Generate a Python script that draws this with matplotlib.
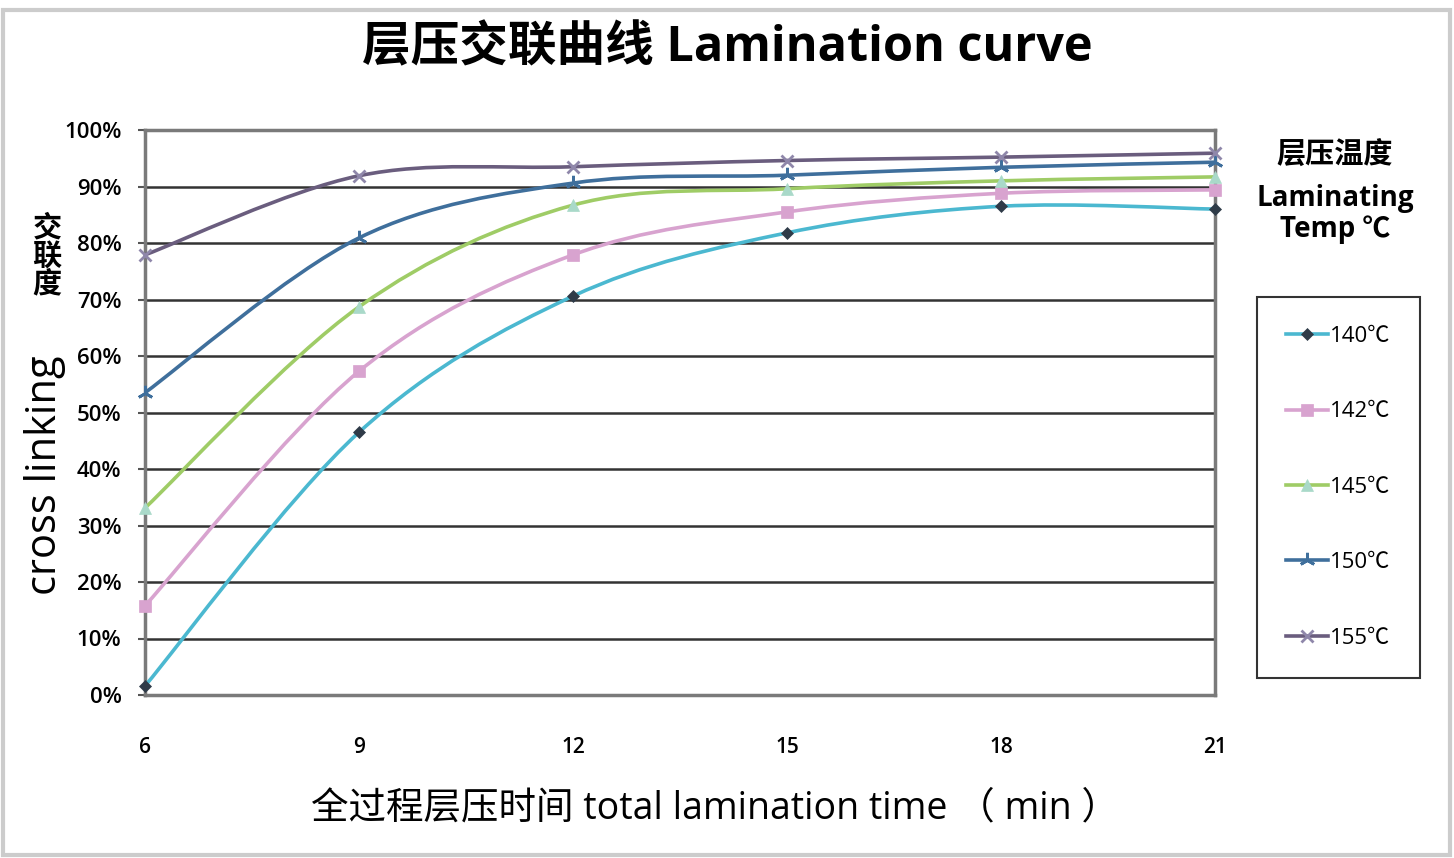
import matplotlib
matplotlib.use("Agg")
import matplotlib.pyplot as plt
from matplotlib.path import Path
from matplotlib.patches import PathPatch, Rectangle
from matplotlib.lines import Line2D
from matplotlib.ticker import PercentFormatter

plt.rcParams['font.family'] = ['Open Sans', 'Noto Sans CJK SC', 'DejaVu Sans']

# lamination time (min) and cross linking degree (%) per laminating temperature
times = ["6", "9", "12", "15", "18", "21"]
temps = ["140℃", "142℃", "145℃", "150℃", "155℃"]
cl_140 = [1.6, 46.5, 70.6, 81.8, 86.5, 86.0]
cl_142 = [15.8, 57.3, 77.9, 85.5, 88.8, 89.4]
cl_145 = [33.1, 68.7, 86.7, 89.6, 91.0, 91.7]
cl_150 = [53.5, 80.9, 90.6, 92.0, 93.4, 94.3]
cl_155 = [77.9, 91.9, 93.5, 94.6, 95.2, 95.9]
series = [cl_140, cl_142, cl_145, cl_150, cl_155]

line_colors = ["#4bb8d0", "#d8a3cf", "#9fcc66", "#3f6f9c", "#6a5d7e"]
marker_colors = ["#2f3b48", "#d8a3cf", "#a9d9c9", "#3f6f9c", "#8f87aa"]
markers = ["D", "s", "^", (3, 2, 0), "x"]
marker_sizes = [6, 9, 8, 11, 9]


# Excel-like smoothed line: cubic bezier through points
def smooth_path(xs, ys):
    n = len(xs)
    verts = [(xs[0], ys[0])]
    codes = [Path.MOVETO]
    for i in range(n - 1):
        x0, y0 = xs[max(i - 1, 0)], ys[max(i - 1, 0)]
        x3, y3 = xs[min(i + 2, n - 1)], ys[min(i + 2, n - 1)]
        c1 = (xs[i] + (xs[i + 1] - x0) / 6, ys[i] + (ys[i + 1] - y0) / 6)
        c2 = (xs[i + 1] - (x3 - xs[i]) / 6, ys[i + 1] - (y3 - ys[i]) / 6)
        verts += [c1, c2, (xs[i + 1], ys[i + 1])]
        codes += [Path.CURVE4] * 3
    return Path(verts, codes)


fig = plt.figure(figsize=(14.54, 8.58), dpi=100)
ax = fig.add_axes([145 / 1454, 1 - 695 / 858, 1070 / 1454, 565 / 858])

xpos = list(range(len(times)))
for vals, lc, mc, mk, ms in zip(series, line_colors, marker_colors, markers, marker_sizes):
    ax.add_patch(PathPatch(smooth_path(xpos, vals), fill=False, edgecolor=lc, lw=2.6, zorder=3))
    ax.plot(xpos, vals, linestyle="none", marker=mk, markersize=ms, color=mc,
            markeredgewidth=2 if mk in ("x", (3, 2, 0)) else 0.5, zorder=4, clip_on=False)

ax.set_xlim(0, len(times) - 1)
ax.set_ylim(0, 100)
ax.set_yticks(range(0, 101, 10))
ax.yaxis.set_major_formatter(PercentFormatter(decimals=0))
ax.set_xticks(xpos)
ax.set_xticklabels(times)
ax.yaxis.grid(True, color="#333333", lw=1.8)
ax.set_axisbelow(True)
for s in ax.spines.values():
    s.set_color("#7a7a7a")
    s.set_linewidth(2.5)
ax.tick_params(axis="y", length=5, width=1.5, color="#555555", pad=12, labelsize=16)
ax.tick_params(axis="x", length=0, pad=30, labelsize=15)
for lab in ax.get_yticklabels() + ax.get_xticklabels():
    lab.set_fontweight("semibold")

fig.text(727 / 1454, 1 - 49 / 858, "层压交联曲线 Lamination curve", ha="center", va="center",
         fontsize=35, fontweight="bold")
fig.text(715 / 1454, 1 - 808 / 858, "全过程层压时间 total lamination time （ min ）",
         ha="center", va="center", fontsize=27)
fig.text(45 / 1454, 1 - 475 / 858, "cross linking", rotation=90, ha="center", va="center",
         fontsize=30)
fig.text(47 / 1454, 1 - 256 / 858, "交\n联\n度", ha="center", va="center", fontsize=21,
         fontweight="bold", linespacing=0.95, family=["Noto Sans CJK SC"])

fig.text(1335 / 1454, 1 - 155 / 858, "层压温度", ha="center", va="center", fontsize=21,
         fontweight="bold", family=["Noto Sans CJK SC"])
fig.text(1335 / 1454, 1 - 214 / 858, "Laminating\nTemp ℃", ha="center", va="center",
         fontsize=20, fontweight="bold", linespacing=1.1)

handles = [Line2D([], [], color=lc, lw=2.6, marker=mk, markersize=ms, markerfacecolor=mc,
                  markeredgecolor=mc, markeredgewidth=2 if mk in ("x", (3, 2, 0)) else 0.5)
           for lc, mc, mk, ms in zip(line_colors, marker_colors, markers, marker_sizes)]
leg = ax.legend(handles, temps, loc="upper left", bbox_to_anchor=(1257 / 1454, 1 - 297 / 858),
                bbox_transform=fig.transFigure, borderaxespad=0, frameon=True, fancybox=False,
                edgecolor="black", fontsize=16, labelspacing=2.45, borderpad=1.3,
                handlelength=1.9, handletextpad=0.1)
leg.get_frame().set_linewidth(1.5)

fig.add_artist(Rectangle((0.002, 0.003), 0.995, 0.985, transform=fig.transFigure,
                         fill=False, edgecolor="#cccccc", lw=3))

fig.savefig("out.png", dpi=100)
